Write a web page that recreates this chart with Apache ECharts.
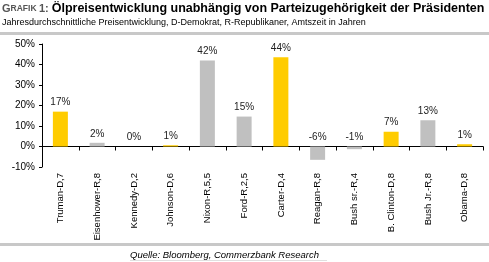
<!DOCTYPE html>
<html>
<head>
<meta charset="utf-8">
<script src="https://cdn.jsdelivr.net/npm/echarts@6/dist/echarts.min.js"></script>
<style>
  html, body { margin: 0; padding: 0; background: #fff; }
  #chart { width: 489px; height: 262px; }
</style>
</head>
<body>
<div id="chart"></div>
<script>
// Präsidenten, Partei, Amtszeit
var categories = ['Truman-D,7', 'Eisenhower-R,8', 'Kennedy-D,2', 'Johnson-D,6', 'Nixon-R,5,5', 'Ford-R,2,5',
  'Carter-D,4', 'Reagan-R,8', 'Bush sr.-R,4', 'B. Clinton-D,8', 'Bush Jr.-R,8', 'Obama-D,8'];
var parties = ['D', 'R', 'D', 'D', 'R', 'R', 'D', 'R', 'R', 'D', 'R', 'D'];
// jahresdurchschnittliche Preisentwicklung in %
var values = [17, 1.8, 0, 0.6, 42, 14.6, 43.5, -6.5, -1.3, 7.2, 12.8, 1.1];
var yTicks = [-10, 0, 10, 20, 30, 40, 50];

var partyColor = { D: '#FFCC00', R: '#C0C0C0' };
var font = 'Liberation Sans, Arial, sans-serif';

var chart = echarts.init(document.getElementById('chart'));
chart.setOption({
  animation: false,
  textStyle: { fontFamily: font },
  title: [
    {
      left: 2, top: 2, padding: 0,
      text: '{g|G}{s|RAFIK }{g|1: }{b|Ölpreisentwicklung unabhängig von Parteizugehörigkeit der Präsidenten}',
      textStyle: {
        rich: {
          g: { fontSize: 11, color: '#555', fontFamily: font },
          s: { fontSize: 8.5, color: '#555', fontFamily: font },
          b: { fontSize: 12.5, fontWeight: 'bold', color: '#000', fontFamily: font }
        }
      }
    },
    {
      left: 2, top: 18, padding: 0,
      text: 'Jahresdurchschnittliche Preisentwicklung, D-Demokrat, R-Republikaner, Amtszeit in Jahren',
      textStyle: { fontSize: 9, fontWeight: 'normal', color: '#000', fontFamily: font }
    },
    {
      left: 130, top: 250.5, padding: 0,
      text: 'Quelle: Bloomberg, Commerzbank Research',
      textStyle: { fontSize: 9.5, fontWeight: 'normal', fontStyle: 'italic', color: '#000', fontFamily: font }
    }
  ],
  graphic: [
    { type: 'rect', left: 0, top: 32, shape: { width: 489, height: 3 }, style: { fill: '#C8C8C8' } },
    { type: 'rect', left: 0, top: 243, shape: { width: 489, height: 3 }, style: { fill: '#C8C8C8' } },
    { type: 'rect', left: 130, top: 260, shape: { width: 197, height: 1 }, style: { fill: '#E0E0E0' } }
  ],
  grid: { left: 42, right: 6, top: 44, bottom: 95, outerBoundsMode: 'none' },
  xAxis: {
    type: 'category',
    data: categories,
    axisLine: { onZero: true, lineStyle: { color: '#000', width: 1 } },
    axisTick: { show: true, length: 4, lineStyle: { color: '#000' } },
    axisLabel: { rotate: 90, margin: 6, fontSize: 9.5, color: '#000', interval: 0 }
  },
  yAxis: {
    type: 'value',
    min: yTicks[0],
    max: yTicks[yTicks.length - 1],
    interval: 10,
    axisLine: { show: true, lineStyle: { color: '#000', width: 1 } },
    axisTick: { show: true, length: 3, lineStyle: { color: '#000' } },
    splitLine: { show: false },
    axisLabel: { fontSize: 10, color: '#000', margin: 7, formatter: '{value}%' }
  },
  series: [{
    type: 'bar',
    barWidth: 15,
    data: values.map(function (v, i) {
      return { value: v, itemStyle: { color: partyColor[parties[i]] } };
    }),
    label: {
      show: true,
      position: 'top',
      distance: 4,
      fontSize: 10,
      color: '#222',
      formatter: function (p) { return Math.round(p.value) + '%'; }
    }
  }]
});
</script>
</body>
</html>
